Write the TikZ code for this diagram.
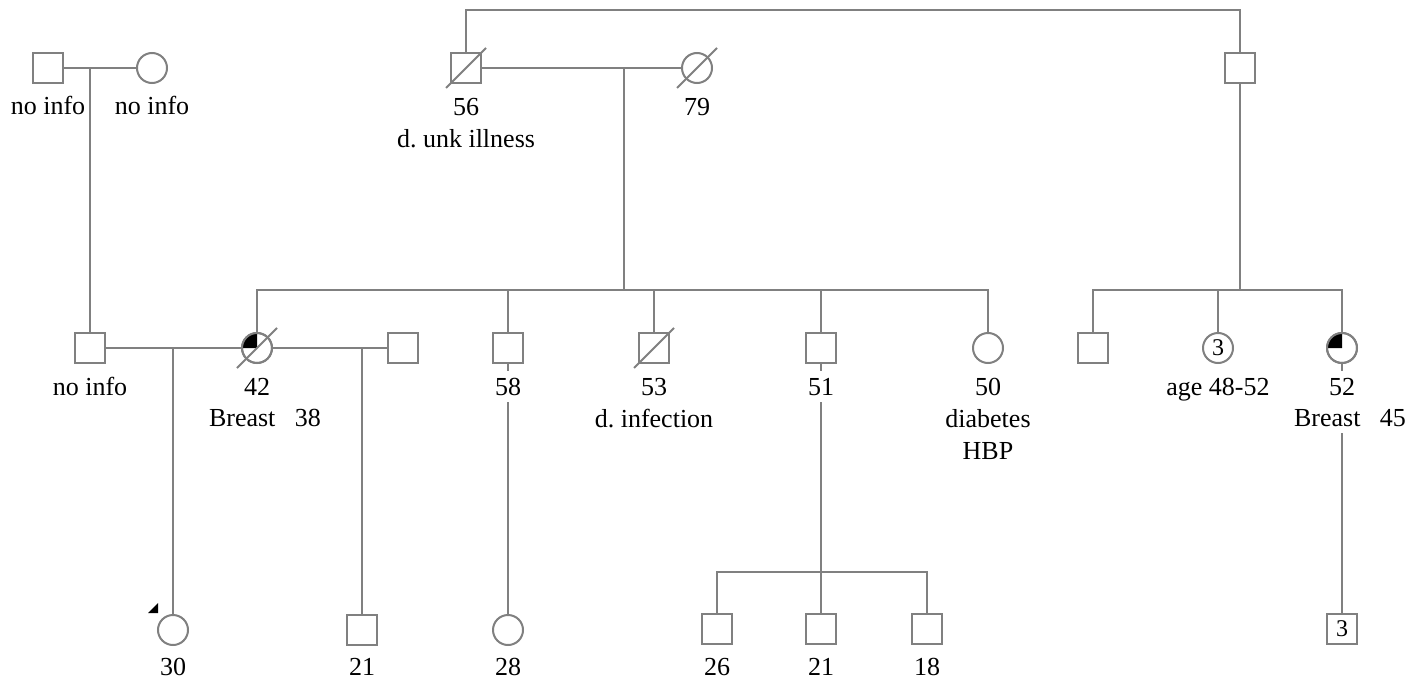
\documentclass[tikz,border=0pt]{standalone}
\usepackage{fontspec}
\setmainfont{Liberation Serif}
\definecolor{lgray}{RGB}{128,128,128}
\begin{document}
\begin{tikzpicture}[x=1pt,y=1pt,
  sym/.style={draw=lgray,line width=2pt,minimum size=30pt,inner sep=0pt,outer sep=0pt,fill=white},
  sq/.style={sym,rectangle},
  ci/.style={sym,circle},
  con/.style={draw=lgray,line width=2pt},
  lbl/.style={anchor=base,inner sep=0pt,font=\fontsize{26}{30}\selectfont},
  mlbl/.style={lbl,fill=white,inner sep=7pt},
  inner/.style={font=\fontsize{24}{26}\selectfont}
]
\fill[white] (0,0) rectangle (1416,-685);
\useasboundingbox (0,0) rectangle (1416,-685);

% --- symbols
\node[sq] (gf1) at (48,-68) {};
\node[ci] (gm1) at (152,-68) {};
\node[sq] (gf2) at (466,-68) {};
\node[ci] (gm2) at (697,-68) {};
\node[sq] (gf3) at (1240,-68) {};

\node[sq] (f1)  at (90,-348) {};
\node[ci] (c42) at (257,-348) {};
\node[sq] (h2)  at (403,-348) {};
\node[sq] (s58) at (508,-348) {};
\node[sq] (s53) at (654,-348) {};
\node[sq] (s51) at (821,-348) {};
\node[ci] (c50) at (988,-348) {};
\node[sq] (sr1) at (1093,-348) {};
\node[ci,inner] (c3) at (1218,-348) {3};
\node[ci] (c52) at (1342,-348) {};

\node[ci] (c30)  at (173,-630) {};
\node[sq] (s21a) at (362,-630) {};
\node[ci] (c28)  at (508,-630) {};
\node[sq] (s26)  at (717,-629) {};
\node[sq] (s21b) at (821,-629) {};
\node[sq] (s18)  at (927,-629) {};
\node[sq,inner] (s3) at (1342,-629) {3};

% --- helper coordinates
\coordinate (top) at (853,-10);
\coordinate (m1) at (90,-68);
\coordinate (m2) at (624,-68);
\coordinate (b2) at (624,-290);
\coordinate (b3) at (1240,-290);
\coordinate (m3) at (173,-348);
\coordinate (m4) at (362,-348);
\coordinate (b5) at (821,-572);

% --- connectors
\draw[con] (gf2) |- (top) -| (gf3);
\draw[con] (gf1) -- (gm1);
\draw[con] (m1) -- (f1);
\draw[con] (gf2) -- (gm2);
\draw[con] (m2) -- (b2);
\draw[con] (c42) |- (b2) -| (c50);
\draw[con] (s58) -- (s58 |- b2);
\draw[con] (s53) -- (s53 |- b2);
\draw[con] (s51) -- (s51 |- b2);
\draw[con] (gf3) -- (b3);
\draw[con] (sr1) |- (b3) -| (c52);
\draw[con] (c3) -- (c3 |- b3);
\draw[con] (f1) -- (c42);
\draw[con] (c42) -- (h2);
\draw[con] (m3) -- (c30);
\draw[con] (m4) -- (s21a);
\draw[con] (s58) -- (c28);
\draw[con] (s51) -- (s21b);
\draw[con] (s26) |- (b5) -| (s18);
\draw[con] (c52) -- (s3);

% --- affected quadrants
\fill[black] (c42.center) -- +(-15,0) arc[start angle=180,end angle=90,radius=15] -- cycle;
\fill[black] (c52.center) -- +(-15,0) arc[start angle=180,end angle=90,radius=15] -- cycle;
\draw[con] (c42) circle[radius=15];
\draw[con] (c52) circle[radius=15];

% --- deceased slashes
\draw[con] (gf2.center) +(-20,-20) -- +(20,20);
\draw[con] (gm2.center) +(-20,-20) -- +(20,20);
\draw[con] (c42.center) +(-20,-20) -- +(20,20);
\draw[con] (s53.center) +(-20,-20) -- +(20,20);

% --- proband arrow
\fill[black] (c30.center) +(-25,17) -- +(-15,27) -- +(-15,17) -- cycle;

% --- labels
\node[lbl] (l1) at (48,-114) {no info};
\node[lbl] (l2) at (152,-114) {no info};
\node[lbl] (l3) at (466,-115) {56};
\node[lbl] (l4) at (466,-147) {d.\ unk illness};
\node[lbl] (l5) at (697,-115) {79};
\node[lbl] (l6) at (90,-395) {no info};
\node[lbl] (l7) at (257,-395) {42};
\node[lbl] (l8) at (265,-426) {Breast\ \ \ 38};
\node[mlbl] (l9) at (508,-395) {58};
\node[lbl] (l10) at (654,-395) {53};
\node[lbl] (l11) at (654,-427) {d.\ infection};
\node[mlbl] (l12) at (821,-395) {51};
\node[lbl] (l13) at (988,-395) {50};
\node[lbl] (l14) at (988,-427) {diabetes};
\node[lbl] (l15) at (988,-459) {HBP};
\node[lbl] (l16) at (1218,-395) {age 48-52};
\node[mlbl] (l17) at (1342,-395) {52};
\node[mlbl] (l18) at (1350,-426) {Breast\ \ \ 45};
\node[lbl] (l19) at (173,-675) {30};
\node[lbl] (l20) at (362,-675) {21};
\node[lbl] (l21) at (508,-675) {28};
\node[lbl] (l22) at (717,-675) {26};
\node[lbl] (l23) at (821,-675) {21};
\node[lbl] (l24) at (927,-675) {18};
\end{tikzpicture}
\end{document}
